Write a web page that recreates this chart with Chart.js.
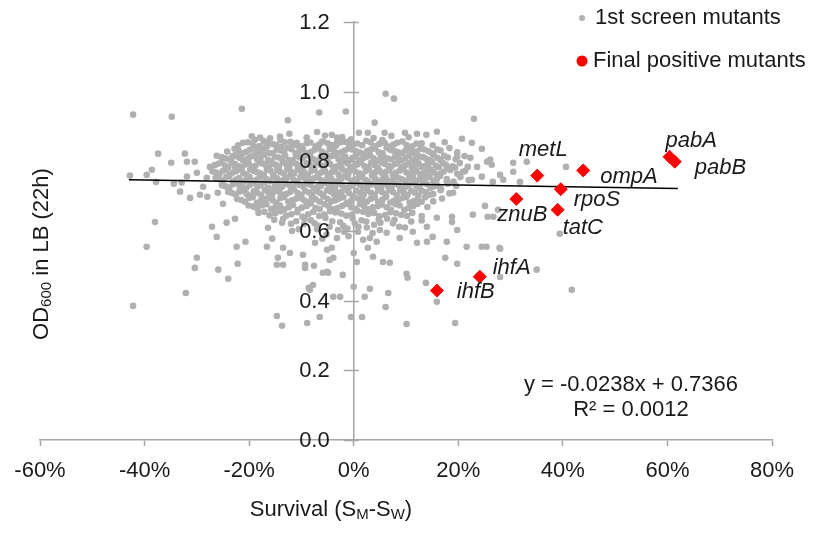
<!DOCTYPE html>
<html lang="en">
<head>
<meta charset="UTF-8">
<title>OD600 vs survival</title>
<script src="https://cdn.jsdelivr.net/npm/chart.js"></script>
<style>
  html, body { margin: 0; padding: 0; background: #fff; }
</style>
</head>
<body>
<canvas id="scatterChart" width="814" height="535"></canvas>
<script>
// survival (S_M - S_W) in %, OD600 at 22h in LB
const screenCore = [
  [-19.5,.872],[-16,.866],[-12.3,.879],[-9,.868],[-5.5,.874],[-2.2,.87],[1,.882],[3.8,.867],[7.2,.873],[10.5,.869],[13.9,.876],[-14,.861],[-7,.884],[5.5,.861],[-0.5,.863],
  [-22.1,.846],[-20.3,.855],[-18.6,.842],[-17.2,.858],[-15.4,.849],[-13.8,.841],[-12.1,.856],[-10.7,.845],[-9,.852],[-7.3,.843],[-5.8,.857],[-4.1,.847],[-2.6,.854],[-0.9,.842],[0.7,.851],[2.4,.859],[4,.844],[5.9,.853],[7.6,.848],[9.3,.857],[11.2,.843],[13,.852],[15.1,.846],[17.4,.855],
  [-24.2,.828],[-22.8,.836],[-21.3,.822],[-19.9,.833],[-18.3,.826],[-16.9,.838],[-15.5,.824],[-14,.831],[-12.6,.839],[-11.1,.823],[-9.7,.834],[-8.2,.827],[-6.8,.838],[-5.3,.822],[-3.9,.832],[-2.4,.826],[-1,.837],[0.5,.829],[1.9,.821],[3.4,.835],[4.8,.826],[6.3,.839],[7.7,.83],[9.2,.824],[10.6,.836],[12.1,.828],[13.5,.834],[15,.823],[16.6,.831],[18.3,.838],[19.8,.826],
  [-25.3,.812],[-23.9,.806],[-22.6,.818],[-21.2,.803],[-19.8,.813],[-18.5,.807],[-17.1,.819],[-15.8,.801],[-14.4,.811],[-13.1,.816],[-11.7,.804],[-10.4,.812],[-9,.819],[-7.7,.806],[-6.3,.814],[-5,.801],[-3.6,.817],[-2.3,.809],[-0.9,.803],[0.4,.815],[1.8,.808],[3.1,.818],[4.5,.802],[5.8,.812],[7.2,.806],[8.5,.816],[9.9,.81],[11.2,.802],[12.6,.814],[13.9,.807],[15.3,.818],[16.6,.804],[18,.811],[19.5,.806],[21.2,.815],
  [-26.6,.789],[-25.3,.797],[-24,.783],[-22.7,.792],[-21.4,.781],[-20.1,.796],[-18.8,.787],[-17.5,.794],[-16.2,.782],[-14.9,.79],[-13.6,.798],[-12.3,.785],[-11,.793],[-9.7,.781],[-8.4,.789],[-7.1,.797],[-5.8,.784],[-4.5,.792],[-3.2,.786],[-1.9,.799],[-0.6,.782],[0.7,.791],[2,.787],[3.3,.796],[4.6,.781],[5.9,.793],[7.2,.785],[8.5,.798],[9.8,.788],[11.1,.782],[12.4,.794],[13.7,.787],[15,.799],[16.3,.783],[17.6,.791],[18.9,.786],[20.3,.795],[21.8,.784],
  [-27,.771],[-25.7,.764],[-24.4,.776],[-23.1,.768],[-21.8,.779],[-20.5,.762],[-19.2,.773],[-17.9,.766],[-16.6,.777],[-15.3,.761],[-14,.769],[-12.7,.778],[-11.4,.765],[-10.1,.772],[-8.8,.761],[-7.5,.776],[-6.2,.768],[-4.9,.763],[-3.6,.774],[-2.3,.779],[-1,.766],[0.3,.771],[1.6,.762],[2.9,.777],[4.2,.769],[5.5,.764],[6.8,.775],[8.1,.768],[9.4,.779],[10.7,.763],[12,.772],[13.3,.766],[14.6,.777],[15.9,.761],[17.2,.77],[18.5,.775],[19.8,.764],[21.3,.772],
  [-26.4,.752],[-25.1,.744],[-23.8,.757],[-22.5,.748],[-21.2,.741],[-19.9,.755],[-18.6,.747],[-17.3,.759],[-16,.743],[-14.7,.751],[-13.4,.746],[-12.1,.758],[-10.8,.742],[-9.5,.753],[-8.2,.748],[-6.9,.756],[-5.6,.741],[-4.3,.75],[-3,.745],[-1.7,.757],[-0.4,.743],[0.9,.752],[2.2,.747],[3.5,.759],[4.8,.741],[6.1,.754],[7.4,.746],[8.7,.751],[10,.742],[11.3,.757],[12.6,.748],[13.9,.753],[15.2,.744],[16.5,.758],[17.8,.749],[19.1,.742],[20.4,.755],[22,.746],
  [-25.2,.731],[-23.8,.725],[-22.5,.738],[-21.1,.722],[-19.8,.733],[-18.4,.727],[-17.1,.739],[-15.7,.721],[-14.4,.73],[-13,.736],[-11.7,.724],[-10.3,.732],[-9,.738],[-7.6,.723],[-6.3,.729],[-4.9,.735],[-3.6,.721],[-2.2,.732],[-0.9,.726],[0.5,.739],[1.8,.724],[3.2,.733],[4.5,.728],[5.9,.737],[7.2,.722],[8.6,.731],[9.9,.726],[11.3,.738],[12.6,.723],[14,.734],[15.3,.728],[16.7,.721],[18,.736],[19.6,.729],
  [-24,.712],[-22.6,.705],[-21.2,.716],[-19.8,.701],[-18.4,.709],[-17,.718],[-15.6,.703],[-14.2,.712],[-12.8,.707],[-11.4,.719],[-10,.702],[-8.6,.711],[-7.2,.716],[-5.8,.704],[-4.4,.713],[-3,.708],[-1.6,.719],[-0.2,.701],[1.2,.71],[2.6,.716],[4,.705],[5.4,.712],[6.8,.718],[8.2,.703],[9.6,.709],[11,.715],[12.4,.702],[13.8,.711],[15.2,.706],[16.6,.717],[18.3,.708],
  [-22.3,.692],[-20.8,.684],[-19.3,.697],[-17.8,.687],[-16.3,.694],[-14.8,.682],[-13.3,.698],[-11.8,.688],[-10.3,.695],[-8.8,.683],[-7.3,.691],[-5.8,.699],[-4.3,.685],[-2.8,.693],[-1.3,.681],[0.2,.696],[1.7,.688],[3.2,.692],[4.7,.684],[6.2,.698],[7.7,.687],[9.2,.694],[10.7,.682],[12.2,.691],[13.7,.697],[15.2,.685],[16.9,.693],
  [-20.1,.673],[-18.4,.664],[-16.7,.677],[-15,.668],[-13.3,.662],[-11.6,.675],[-9.9,.667],[-8.2,.679],[-6.5,.663],[-4.8,.671],[-3.1,.666],[-1.4,.678],[0.3,.664],[2,.672],[3.7,.668],[5.4,.676],[7.1,.661],[8.8,.673],[10.5,.666],[12.2,.678],[14.1,.669],
  [-18.2,.652],[-16.1,.645],[-14,.657],[-11.9,.648],[-9.8,.641],[-7.7,.655],[-5.6,.647],[-3.5,.653],[-1.4,.644],[0.7,.658],[2.8,.649],[4.9,.642],[7,.654],[9.1,.646],[11.2,.652],[13,.643],
  [-15.2,.632],[-12,.621],[-9.4,.636],[-6.8,.615],[-4.1,.628],[-1.2,.607],[1.5,.631],[3.9,.618],[6.4,.635],[8.7,.612],[11,.627],[-10.5,.605],[0.2,.622],[-3,.603],
  [-9.5,.62],[-7,.605],[-5.2,.59],[-2,.615],[0.8,.598],[2.5,.61],[5,.603],[7.5,.622],[9.8,.61],[-11.8,.6],[13,.63],[-1,.585],[1.8,.575],[-6,.578]
];
const screenDense = [
  [-19.4,.851],[-17.9,.844],[-16.5,.853],[-14.8,.847],[-13.2,.855],[-11.6,.849],[-10,.843],[-8.3,.854],[-6.6,.848],[-5,.852],[-3.4,.845],[-1.7,.856],[0,.849],[1.6,.846],[3.2,.855],[4.9,.85],[6.6,.843],[8.3,.853],[10.1,.847],[12,.851],
  [-22,.83],[-20.6,.827],[-19.1,.836],[-17.6,.829],[-16.2,.823],[-14.7,.834],[-13.3,.827],[-11.9,.835],[-10.4,.829],[-9,.823],[-7.5,.833],[-6.1,.828],[-4.6,.836],[-3.2,.824],[-1.7,.831],[-0.3,.834],[1.2,.825],[2.6,.83],[4.1,.837],[5.5,.823],[7,.833],[8.4,.827],[9.9,.831],[11.4,.825],[12.8,.837],[14.3,.829],[16,.834],
  [-24.6,.809],[-23.2,.815],[-21.9,.81],[-20.5,.806],[-19.1,.817],[-17.8,.81],[-16.4,.804],[-15.1,.814],[-13.7,.808],[-12.4,.803],[-11,.816],[-9.7,.808],[-8.3,.813],[-7,.802],[-5.6,.81],[-4.3,.815],[-2.9,.805],[-1.6,.813],[-0.2,.81],[1.1,.804],[2.5,.813],[3.8,.809],[5.2,.816],[6.5,.808],[7.9,.813],[9.2,.804],[10.6,.817],[11.9,.809],[13.3,.812],[14.6,.803],[16,.81],[17.3,.816],
  [-25.9,.793],[-24.6,.788],[-23.3,.796],[-22,.786],[-20.8,.791],[-19.5,.784],[-18.1,.797],[-16.8,.789],[-15.5,.794],[-14.3,.785],[-12.9,.791],[-11.6,.797],[-10.3,.787],[-9,.794],[-7.7,.784],[-6.4,.79],[-5.1,.796],[-3.9,.783],[-2.5,.79],[-1.2,.794],[0.1,.787],[1.3,.797],[2.7,.783],[4,.789],[5.3,.797],[6.6,.787],[7.9,.792],[9.1,.783],[10.5,.795],[11.8,.789],[13,.784],[14.3,.792],[15.7,.787],[17,.796],[18.3,.782],
  [-26.3,.768],[-25,.773],[-23.7,.763],[-22.4,.772],[-21.1,.766],[-19.8,.777],[-18.5,.769],[-17.2,.762],[-15.9,.773],[-14.6,.776],[-13.3,.764],[-12,.771],[-10.7,.777],[-9.4,.767],[-8.1,.772],[-6.8,.763],[-5.5,.772],[-4.2,.768],[-2.9,.762],[-1.6,.772],[-0.3,.777],[1,.766],[2.3,.772],[3.6,.764],[4.9,.774],[6.2,.77],[7.5,.762],[8.8,.773],[10.1,.768],[11.4,.776],[12.7,.762],[14,.771],[15.3,.769],[16.6,.764],[18,.778],
  [-25.7,.749],[-24.4,.755],[-23.1,.742],[-21.9,.752],[-20.6,.746],[-19.3,.742],[-18,.753],[-16.7,.749],[-15.4,.756],[-14.1,.744],[-12.8,.752],[-11.5,.747],[-10.2,.755],[-8.9,.743],[-7.6,.751],[-6.3,.746],[-5,.754],[-3.7,.741],[-2.4,.75],[-1.1,.753],[0.2,.747],[1.5,.756],[2.8,.742],[4.1,.751],[5.4,.747],[6.7,.743],[8,.755],[9.3,.748],[10.6,.753],[11.9,.744],[13.2,.75],[14.5,.756],[15.9,.749],
  [-24.5,.728],[-23.1,.734],[-21.8,.729],[-20.5,.724],[-19.1,.738],[-17.8,.731],[-16.4,.724],[-15,.735],[-13.7,.727],[-12.3,.731],[-11,.737],[-9.6,.727],[-8.3,.733],[-6.9,.726],[-5.6,.738],[-4.2,.728],[-2.9,.735],[-1.5,.724],[-0.2,.731],[1.2,.733],[2.5,.727],[3.9,.738],[5.2,.723],[6.5,.729],[7.9,.735],[9.3,.724],[10.6,.732],[12,.728],[13.3,.738],[14.7,.724],[16,.731],
  [-23.3,.709],[-21.9,.713],[-20.5,.706],[-19.1,.714],[-17.7,.703],[-16.3,.71],[-14.9,.716],[-13.5,.704],[-12.1,.713],[-10.7,.709],[-9.3,.715],[-7.9,.705],[-6.5,.71],[-5.1,.717],[-3.7,.703],[-2.3,.713],[-0.9,.709],[0.5,.716],[1.9,.704],[3.3,.71],[4.7,.717],[6.1,.706],[7.5,.712],[8.9,.716],[10.3,.704],[11.7,.71],[13.1,.715],[14.5,.704],
  [-21.5,.689],[-20,.695],[-18.5,.681],[-17,.692],[-15.5,.688],[-14,.695],[-12.5,.684],[-11,.693],[-9.5,.688],[-8,.696],[-6.5,.684],[-5,.692],[-3.5,.688],[-2,.697],[-0.5,.686],[1,.692],[2.5,.684],[4,.696],[5.5,.69],[7,.682],[8.5,.69],[10,.697],[11.5,.686],[13,.684],
  [-19.2,.67],[-17.5,.674],[-15.8,.663],[-14.1,.673],[-12.4,.668],[-10.7,.661],[-9,.672],[-7.3,.666],[-5.6,.677],[-3.9,.662],[-2.2,.672],[-0.5,.668],[1.2,.677],[2.9,.662],[4.6,.671],[6.3,.668],[8,.677],[9.7,.661],[11.4,.672],
  [-17.1,.655],[-15,.651],[-12.9,.644],[-10.8,.654],[-8.7,.648],[-6.6,.643],[-4.5,.657],[-2.4,.65],[-0.3,.647],[1.8,.655],[3.9,.652],[6,.646],[8.1,.651],[10.2,.643],
  [-13.5,.635],[-11,.628],[-8.2,.631],[-5.4,.637],[-2.6,.625],[-0.2,.636],[2.4,.627],[5.1,.624],[7.8,.632],[-7.5,.622],[-4.6,.612],[-1.8,.598],[0.9,.612],[3.6,.594],[4.8,.633]
];
const screenHigh = [
  [-42.2,.934],[-34.8,.928],[-21.4,.951],[-12.6,.918],[-6.6,.94],[-1.5,.943],[6.1,.994],[7.7,.98],[23,.922],[4,.911],[15.9,.885],
  [-14.1,.871],[-17.9,.868],[-18.9,.862],[-21.2,.853],[-16.6,.842],[-4.2,.876],[-3.2,.868],[-6.1,.856],[-10.9,.853],[20.7,.865],[22.6,.853],
  [2.7,.882],[5.9,.882],[9.8,.882],[12.1,.879],[-3.2,.853],[-1.1,.856]
];
const screenLeft = [
  [-37.4,.822],[-42.8,.759],[-39.6,.761],[-38.6,.776],[-37.8,.741],[-34.9,.796],[-34.4,.736],[-33.2,.713],[-32.3,.822],[-31.9,.799],
  [-30.4,.799],[-31.9,.756],[-31.3,.695],[-32.9,.739],[-30,.767],[-29.4,.704],[-28.8,.727],[-28.1,.753],[-27.5,.784],[-26.2,.816],
  [-26,.71],[-28,.698],[-25,.678],[-38,.626],[-27.1,.612],[-24.3,.624],[-22.7,.635],[-23.1,.813],[-22.7,.784]
];
const screenRight = [
  [24.5,.836],[22.3,.81],[19.8,.813],[17.8,.784],[19.4,.782],[20.9,.77],[23.6,.784],[25.5,.799],[26.4,.79],[24.5,.756],
  [28,.761],[28.6,.747],[26.6,.741],[22.6,.747],[33.1,.799],[17.8,.741],[19,.71],[25.1,.672],[22.8,.647],[18.8,.641],
  [15.9,.638],[14,.612],[26.1,.805],[30.5,.796],[30.5,.77],[31.8,.741],[40.6,.784],[25.6,.641],[27.6,.661],[39.4,.592],
  [25.4,.555],[27.9,.552],[26.7,.641]
];
const screenLow = [
  [21.6,.555],[24.5,.555],[28,.549],[17.5,.523],[19.8,.506],[28,.468],[35,.489],[41.7,.431],[13.8,.451],[10.1,.477],
  [10.3,.466],[15.9,.397],[19.4,.336],[10.1,.333],[6.6,.422],[6.1,.382],[3.1,.434],[2.1,.411],[1.6,.353],[-0.5,.353],
  [0,.44],[-2.6,.411],[-3.9,.411],[-6.5,.353],[-8.9,.336],[6.9,.509],[5.6,.511],[3.7,.526],[0.6,.511],[-2.1,.474],
  [-5.1,.483],[-5.9,.48],[-7.8,.445],[-8.4,.431],[-9.3,.503],[-3.9,.523],[0,.537],[2.7,.552],[-4.2,.552],[-7.4,.566],
  [-5.1,.546],[12.1,.566],[14,.569],[17.8,.569],[15.1,.583],[19.8,.603],[18.8,.626],[11.3,.598],[8.8,.58],[6.3,.595],
  [4.4,.569],[3.1,.58],[-39.6,.555],[-42.2,.385],[-32.1,.422],[-30.4,.494],[-30,.523],[-26.2,.583],[-25.9,.489],[-24,.463],
  [-22.4,.555],[-22.2,.506],[-20.7,.569],[-16.6,.555],[-15.6,.578],[-16.4,.609],[-13.7,.624],[-13.5,.552],[-12.2,.537],[-14.5,.523],
  [-14.7,.503],[-13.5,.503],[-9.7,.532],[-9.3,.494],[-7.6,.5],[-4.9,.48],[-8.6,.437],[-14.7,.356],[-13.7,.328],[-3.2,.58],[-4.6,.517]
];

const geneNames = ['metL', 'ompA', 'rpoS', 'znuB', 'tatC', 'pabA', 'pabB', 'ihfA', 'ihfB'];
const geneSurvival = [35.1, 43.9, 39.6, 31.1, 39.0, 60.4, 61.4, 24.1, 15.9];
const geneOD = [0.759, 0.774, 0.720, 0.692, 0.661, 0.813, 0.799, 0.469, 0.429];

// label placement relative to each diamond: [dx, dy, align]
const geneLabelPos = [[6, -26, 'center'], [17, 6, 'left'], [13, 11, 'left'], [-19, 16, 'left'], [5, 18, 'left'],
                      [-4, -16, 'left'], [20, 6, 'left'], [13, -9, 'left'], [20, 1, 'left']];

const xTicks = [-60, -40, -20, 0, 20, 40, 60, 80];
const trendSlope = -0.0238, trendIntercept = 0.7366, trendR2 = 0.0012;
const trendX = [-43, 62];

const FONT = '"Liberation Sans", Arial, Helvetica, sans-serif';
const AXIS_GREY = '#a6a6a6';
const TEXT = '#1a1a1a';
Chart.defaults.font.family = FONT;
Chart.defaults.font.size = 22;
Chart.defaults.color = TEXT;

const toPts = arr => arr.map(p => ({x: p[0], y: p[1]}));
const screenPts = toPts([].concat(screenCore, screenDense, screenHigh, screenLeft, screenRight, screenLow));
const genePts = geneNames.map((g, i) => ({x: geneSurvival[i], y: geneOD[i]}));
const trendPts = trendX.map(x => ({x: x, y: trendIntercept + trendSlope * x / 100}));

// y axis sits at x = 0: its ticks and labels are drawn here
const yAxisAtZero = {
  id: 'yAxisAtZero',
  afterDraw(chart) {
    const ctx = chart.ctx, ys = chart.scales.y, ax = chart.scales.x.getPixelForValue(0);
    ctx.save();
    ctx.strokeStyle = AXIS_GREY;
    ctx.lineWidth = 1.5;
    ctx.fillStyle = TEXT;
    ctx.font = '22px ' + FONT;
    ctx.textAlign = 'right';
    ctx.textBaseline = 'middle';
    ys.ticks.forEach(t => {
      const py = Math.round(ys.getPixelForValue(t.value)) + 0.5;
      ctx.beginPath();
      ctx.moveTo(ax - 10, py);
      ctx.lineTo(ax + 5, py);
      ctx.stroke();
      ctx.fillText(t.value.toFixed(1), ax - 24, py);
    });
    ctx.restore();
  }
};

// legend, equation, axis titles (with subscripts) and gene names
const annotations = {
  id: 'annotations',
  afterDatasetsDraw(chart) {
    const ctx = chart.ctx;
    ctx.save();
    ctx.fillStyle = TEXT;
    ctx.textBaseline = 'middle';

    ctx.font = 'italic 22px ' + FONT;
    const meta = chart.getDatasetMeta(0);
    meta.data.forEach((el, i) => {
      const [dx, dy, align] = geneLabelPos[i];
      ctx.textAlign = align;
      ctx.fillText(geneNames[i], el.x + dx, el.y + dy);
    });

    ctx.font = '22px ' + FONT;
    ctx.textAlign = 'left';
    ctx.fillStyle = '#b0b0b0';
    ctx.beginPath(); ctx.arc(582, 18, 3, 0, Math.PI * 2); ctx.fill();
    ctx.fillStyle = '#ff0000';
    ctx.beginPath(); ctx.arc(582, 61, 5.5, 0, Math.PI * 2); ctx.fill();
    ctx.fillStyle = TEXT;
    ctx.fillText(chart.data.datasets[2].label, 595, 18);
    ctx.fillText(chart.data.datasets[0].label, 593, 61);

    ctx.textAlign = 'center';
    ctx.fillText('y = ' + trendSlope.toFixed(4) + 'x + ' + trendIntercept.toFixed(4), 631, 385);
    ctx.fillText('R² = ' + trendR2.toFixed(4), 631, 410);

    const drawParts = (parts, cx, cy) => {
      let w = 0;
      parts.forEach(p => { ctx.font = p[1] + 'px ' + FONT; w += ctx.measureText(p[0]).width; });
      let x = cx - w / 2;
      ctx.textAlign = 'left';
      parts.forEach(p => {
        ctx.font = p[1] + 'px ' + FONT;
        ctx.fillText(p[0], x, cy + p[2]);
        x += ctx.measureText(p[0]).width;
      });
    };
    drawParts([['Survival (S', 22, 0], ['M', 15, 5], ['-S', 22, 0], ['W', 15, 5], [')', 22, 0]], 331, 510);

    ctx.translate(42, 254);
    ctx.rotate(-Math.PI / 2);
    drawParts([['OD', 22, 0], ['600', 15, 5], [' in LB (22h)', 22, 0]], 0, 0);
    ctx.restore();
  }
};

const ctx = document.getElementById('scatterChart').getContext('2d');
const scatterChart = new Chart(ctx, {
  type: 'scatter',
  data: {
    datasets: [{
      label: 'Final positive mutants',
      data: genePts,
      pointStyle: 'rectRot',
      pointRadius: 6.5,
      pointBackgroundColor: '#ff0000',
      pointBorderColor: '#ff0000',
      pointBorderWidth: 1,
      order: 0
    }, {
      type: 'line',
      label: 'Linear (1st screen mutants)',
      data: trendPts,
      borderColor: '#000000',
      borderWidth: 1.5,
      pointRadius: 0,
      fill: false,
      order: 1
    }, {
      label: '1st screen mutants',
      data: screenPts,
      pointRadius: 3.3,
      pointBackgroundColor: '#b0b0b0',
      pointBorderWidth: 0,
      order: 2
    }]
  },
  options: {
    responsive: false,
    animation: false,
    layout: { padding: { left: 40, right: 42, top: 22, bottom: 0 } },
    plugins: { legend: { display: false }, tooltip: { enabled: false } },
    scales: {
      x: {
        type: 'linear', min: -60, max: 80,
        afterBuildTicks: s => { s.ticks = xTicks.map(v => ({value: v})); },
        afterFit: s => { s.height = 95; },
        ticks: { callback: v => v + '%', padding: 12, maxRotation: 0 },
        grid: { drawOnChartArea: false, tickLength: 6, tickColor: AXIS_GREY, tickWidth: 1.5 },
        border: { color: AXIS_GREY, width: 1.5 }
      },
      y: {
        type: 'linear', min: 0, max: 1.2,
        position: { x: 0 },
        ticks: { stepSize: 0.2, display: false },
        grid: { drawOnChartArea: false, drawTicks: false },
        border: { color: AXIS_GREY, width: 1.5 }
      }
    }
  },
  plugins: [annotations, yAxisAtZero]
});
</script>
</body>
</html>
